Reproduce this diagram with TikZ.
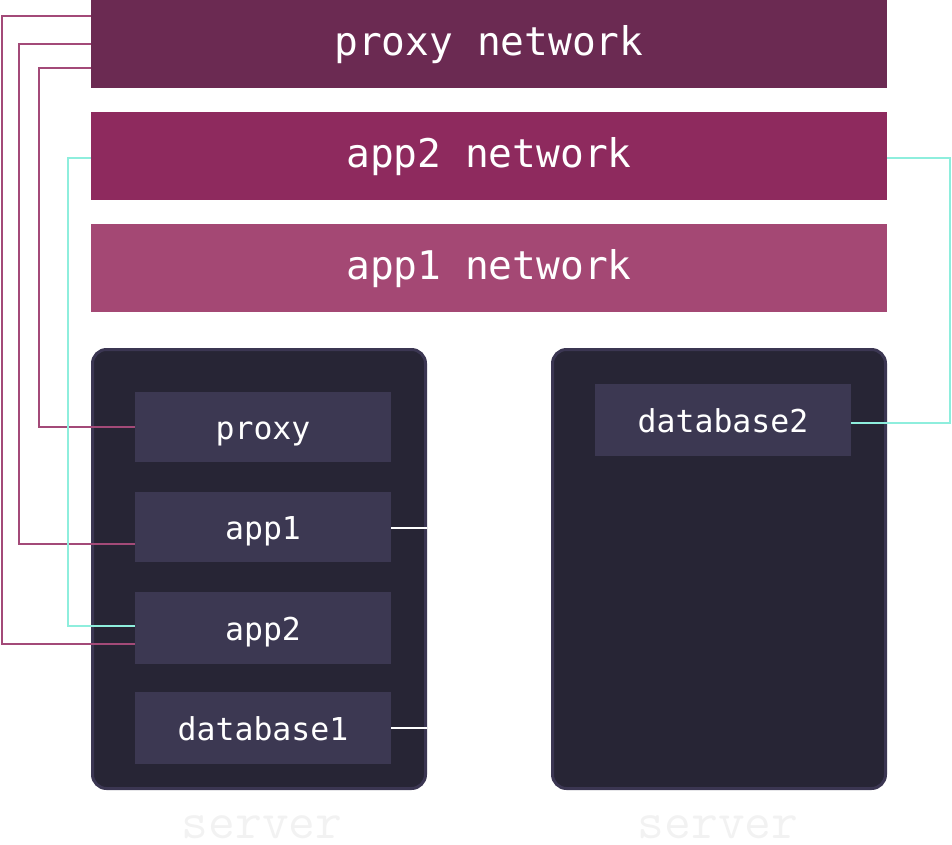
\documentclass[tikz,border=0pt]{standalone}
\usepackage{fontspec}
\newfontfamily\labmono{DejaVu Sans Mono}
\definecolor{proxyc}{HTML}{6B2A52}
\definecolor{apptwoc}{HTML}{8E2A5E}
\definecolor{apponec}{HTML}{A44874}
\definecolor{srvfill}{HTML}{272535}
\definecolor{srvline}{HTML}{3B3652}
\definecolor{innerc}{HTML}{3C3852}
\definecolor{magc}{HTML}{A34A78}
\definecolor{cyanc}{HTML}{8EEEDD}
\definecolor{srvtext}{HTML}{F2F2F2}
\begin{document}
\begin{tikzpicture}[x=1pt,y=-1pt,
  net/.style={rectangle, inner sep=0pt, minimum width=796pt, minimum height=88pt,
    text=white, font=\labmono\fontsize{39.5}{39.5}\selectfont, text height=22pt, text depth=0pt},
  serverbox/.style={rectangle, rounded corners=14pt, fill=srvfill, draw=srvline,
    line width=3pt, minimum width=333pt, minimum height=439pt, inner sep=0pt},
  servlabel/.style={text=srvtext, font=\ttfamily\fontsize{52}{52}\selectfont, inner sep=0pt},
  inbox/.style={rectangle, fill=innerc, inner sep=0pt, minimum width=256pt,
    text=white, font=\labmono\fontsize{31.5}{31.5}\selectfont, text height=24pt, text depth=0pt},
  mag/.style={draw=magc, line width=2pt},
  cyanl/.style={draw=cyanc, line width=2pt},
  whitel/.style={draw=white, line width=2pt}]
\useasboundingbox (0,0) rectangle (952,844);

% networks
\node[net, fill=proxyc] (pn) at (489,44) {proxy network};
\node[net, fill=apptwoc] (a2n) at (489,156) {app2 network};
\node[net, fill=apponec] (a1n) at (489,268) {app1 network};

% servers
\node[serverbox] (s1) at (259,569) {};
\node[serverbox] (s2) at (719,569) {};
\node[servlabel, anchor=base] (l1) at (262,838) {server};
\node[servlabel, anchor=base] (l2) at (718,838) {server};

% containers
\node[inbox, minimum height=70pt] (proxy) at (263,427) {proxy};
\node[inbox, minimum height=70pt] (app1) at (263,527) {app1};
\node[inbox, minimum height=72pt] (app2) at (263,628) {app2};
\node[inbox, minimum height=72pt] (db1) at (263,728) {database1};
\node[inbox, minimum height=72pt] (db2) at (723,420) {database2};

% bend points
\coordinate (m1a) at (2,16);   \coordinate (m1b) at (2,644);
\coordinate (m2a) at (19,44);  \coordinate (m2b) at (19,544);
\coordinate (m3a) at (39,68);  \coordinate (m3b) at (39,427);
\coordinate (c1a) at (68,158); \coordinate (c1b) at (68,626);
\coordinate (c2a) at (950,158); \coordinate (c2b) at (950,423);
\coordinate (w1) at (427,528);
\coordinate (w2) at (427,728);

% proxy network connectors
\draw[mag] (pn.west |- m1a) -- (m1a) -- (m1b) -- (app2.west |- m1b);
\draw[mag] (pn.west |- m2a) -- (m2a) -- (m2b) -- (app1.west |- m2b);
\draw[mag] (pn.west |- m3a) -- (m3a) -- (m3b) -- (proxy.west |- m3b);

% app2 network connectors
\draw[cyanl] (a2n.west |- c1a) -- (c1a) -- (c1b) -- (app2.west |- c1b);
\draw[cyanl] (a2n.east |- c2a) -- (c2a) -- (c2b) -- (db2.east |- c2b);

% app1 network stubs
\draw[whitel] (app1.east |- w1) -- (w1);
\draw[whitel] (db1.east |- w2) -- (w2);
\end{tikzpicture}
\end{document}
